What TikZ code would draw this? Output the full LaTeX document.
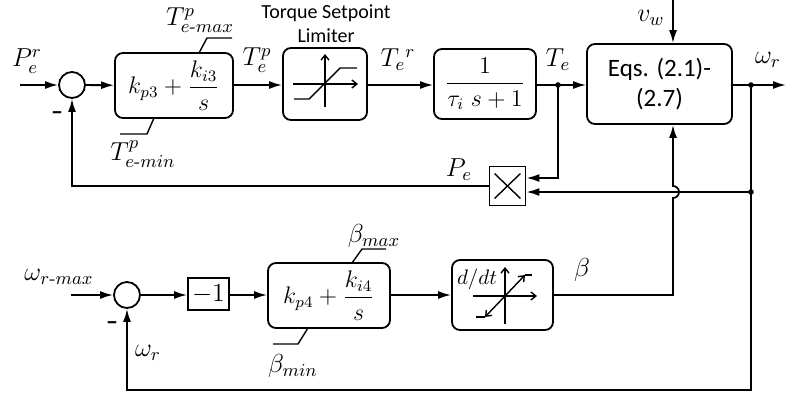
\RequirePackage{fix-cm}
\documentclass[tikz,border=0pt]{standalone}
\usepackage{amsmath}
\usepackage{fontspec}
\newfontfamily\carlito{Carlito}
\usepackage{tikz}
\usetikzlibrary{arrows.meta,calc}
\tikzset{
  blk/.style    = {rectangle, rounded corners=4pt, draw, line width=0.9pt, align=center,
                   inner sep=0pt, font=\fontsize{12}{14}\selectfont},
  gainbox/.style = {rectangle, draw, line width=0.9pt, inner sep=0pt,
                   font=\fontsize{13}{15}\selectfont},
  sumnode/.style = {circle, draw, line width=0.9pt, minimum size=13pt, inner sep=0pt},
  arr/.style    = {-{Latex[length=6.5pt,width=4pt]}, line width=0.9pt},
  wire/.style   = {line width=0.9pt},
  glyph/.style  = {line width=0.7pt},
  barb/.style   = {line width=0.7pt, -{Straight Barb[length=2.5pt,width=4pt]}},
  lbl/.style    = {inner sep=0pt, font=\fontsize{13}{15}\selectfont},
  sgn/.style    = {inner sep=0pt, anchor=base, font=\carlito\bfseries\fontsize{12}{14}\selectfont},
}

\begin{document}
\begin{tikzpicture}[x=0.5pt,y=-0.5pt]
\useasboundingbox (0,0) rectangle (787,393);

% top loop
\coordinate (pin) at (20,85);
\node[sumnode] (sum1) at (72,85) {};
\node[blk, minimum width=59pt, minimum height=32.5pt] (pi1) at (174,85.5) {$k_{p3}+\dfrac{k_{i3}}{s}$};
\node[blk, minimum width=42pt, minimum height=36pt] (lim) at (325,84) {};
\node[blk, minimum width=51pt, minimum height=35pt] (lag) at (485,84) {$\dfrac{1}{\tau_i\;s+1}$};
\node[blk, minimum width=72.5pt, minimum height=40pt, font=\carlito\fontsize{12.5}{15}\selectfont] (eqs) at (659.5,84) {Eqs. (2.1)-\\(2.7)};
\node[rectangle, draw, line width=0.9pt, minimum width=18pt, minimum height=19.5pt] (mult) at (507.5,186) {};
\coordinate (te) at (558,85);
\coordinate (wr) at (751,85);
\coordinate (wrb) at (751,192);
\coordinate (pout) at (786,85);
\coordinate (vw) at (673,0);
\coordinate (mtop) at ([yshift=4pt]mult.east);
\coordinate (mbot) at ([yshift=-3pt]mult.east);

% bottom loop
\coordinate (win) at (71,295);
\node[sumnode] (sum2) at (127,295) {};
\node[gainbox, minimum width=20.5pt, minimum height=16pt] (gain) at (208.5,294) {$-1$};
\node[blk, minimum width=61pt, minimum height=32.5pt] (pi2) at (329,295.5) {$k_{p4}+\dfrac{k_{i4}}{s}$};
\node[blk, minimum width=50.5pt, minimum height=35pt] (ddt) at (502.5,295) {};
\coordinate (bc) at (673,295);
\coordinate (fbc) at (751,390);

% labels
\node[lbl] (lpr) at (27,61) {$P_e^{r}$};
\node[lbl] (lmax1) at (200,20) {$T^{p}_{e\text{-}max}$};
\node[lbl] (lmin1) at (143,154) {$T^{p}_{e\text{-}min}$};
\node[lbl] (ltp) at (257,60) {$T_e^{p}$};
\node[lbl] (ltr) at (398,60) {$T_e{}^{r}$};
\node[lbl] (lte) at (558,60) {$T_e$};
\node[lbl] (lpe) at (459,170) {$P_e$};
\node[lbl] (lvw) at (651,18) {$v_w$};
\node[lbl] (lwr) at (768,60) {$\omega_r$};
\node[lbl] (lwmax) at (59,277) {$\omega_{r\text{-}max}$};
\node[lbl] (lwr2) at (148,353) {$\omega_r$};
\node[lbl] (lbmax) at (374,236) {$\beta_{max}$};
\node[lbl] (lbmin) at (293,366) {$\beta_{min}$};
\node[lbl] (lbeta) at (582,270) {$\beta$};
\node[sgn] (neg1) at (57,119) {–};
\node[sgn] (neg2) at (112,329) {–};
\node[align=center, inner sep=0pt, font=\carlito\fontsize{10}{12}\selectfont] (ltit) at (326,24) {Torque Setpoint\\Limiter};
\node[inner sep=0pt, font=\fontsize{10.5}{12}\selectfont] (lddt) at (477,279) {$d/dt$};

% limits on the PI blocks
\draw[glyph] (199,53) -- (207,38) -- (232,38);
\draw[glyph] (154,118) -- (147,134) -- (120,134);
\draw[glyph] (352,263) -- (362,249) -- (386,249);
\draw[glyph] (308,328) -- (298,344) -- (273,344);

% limiter glyph
\draw[barb] (325,107) -- (325,54);
\draw[barb] (293,84) -- (358,84);
\draw[glyph] (294,99) -- (309,99) -- (340,68) -- (357,68);

% d/dt glyph
\draw[barb] (505,324) -- (505,267);
\draw[barb] (473,296) -- (537,296);
\draw[glyph, {Straight Barb[length=2.5pt,width=4pt]}-{Straight Barb[length=2.5pt,width=4pt]}] (485,317) -- (525,275);
\draw[glyph] (476,317) -- (485,317);
\draw[glyph] (525,275) -- (532,275);

% multiplier cross
\draw[glyph] ([shift={(3pt,-4pt)}]mult.north west) -- ([shift={(-3pt,4pt)}]mult.south east);
\draw[glyph] ([shift={(3pt,4pt)}]mult.south west) -- ([shift={(-3pt,-4pt)}]mult.north east);

% connections, top
\draw[arr] (pin) -- (sum1);
\draw[arr] (sum1) -- (pi1);
\draw[arr] (pi1.east |- sum1) -- (lim.west |- sum1);
\draw[arr] (lim.east |- sum1) -- (lag.west |- sum1);
\draw[wire] (lag.east |- sum1) -- (te);
\draw[arr] (te) -- (eqs.west |- te);
\draw[arr] (eqs.east |- wr) -- (pout);
\draw[arr] (vw) -- (vw |- eqs.north);
\draw[arr] (te) |- (mtop);
\draw[wire] (wr) -- (wrb);
\draw[arr] (wrb) -- (mbot);
\draw[arr] (mult.west) -| (sum1.south);
\fill (te) circle[radius=1.4pt];
\fill (wr) circle[radius=1.4pt];
\fill (wrb) circle[radius=1.4pt];

% connections, bottom
\draw[arr] (win) -- (sum2);
\draw[arr] (sum2) -- (gain.west |- sum2);
\draw[arr] (gain.east |- sum2) -- (pi2.west |- sum2);
\draw[arr] (pi2.east |- sum2) -- (ddt.west |- sum2);
\draw[arr] (ddt.east |- bc) -- (bc) -- ($(bc |- wrb)+(0,6)$) arc[start angle=-90, end angle=90, radius=3pt] -- (bc |- eqs.south);
\draw[arr] (wrb) -- (fbc) -| (sum2.south);

\end{tikzpicture}
\end{document}
